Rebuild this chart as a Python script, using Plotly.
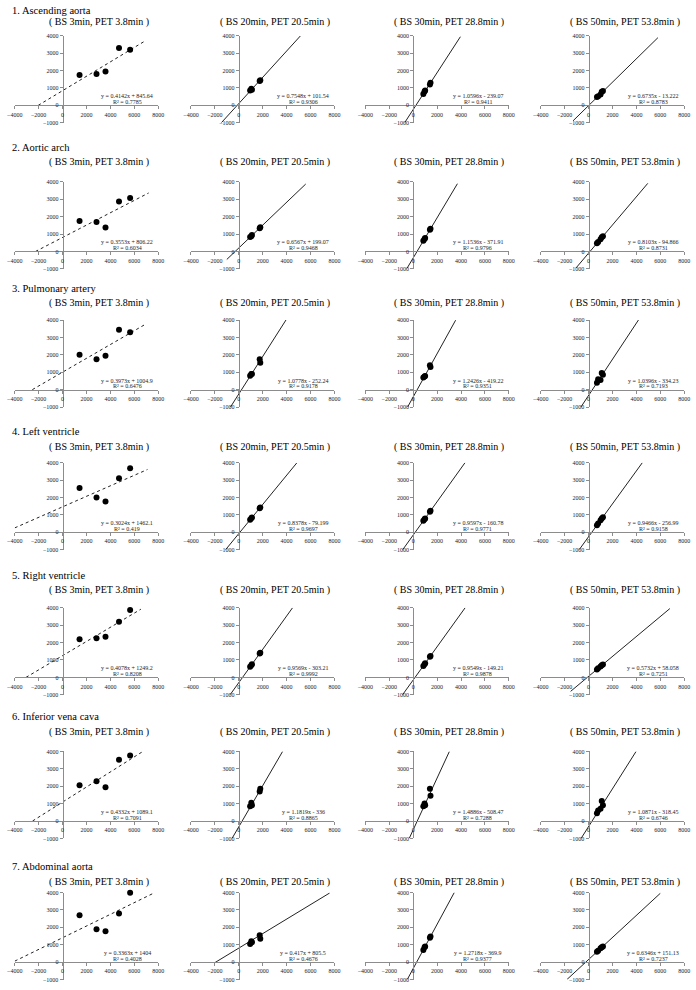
import plotly.graph_objects as go

W, H = 696, 990

sections = ["1. Ascending aorta", "2. Aortic arch", "3. Pulmonary artery", "4. Left ventricle",
            "5. Right ventricle", "6. Inferior vena cava", "7. Abdominal aorta"]
timepoints = ["( BS 3min, PET 3.8min )", "( BS 20min, PET 20.5min )",
              "( BS 30min, PET 28.8min )", "( BS 50min, PET 53.8min )"]

x_ticks = [-4000, -2000, 0, 2000, 4000, 6000, 8000]
y_ticks = [-1000, 0, 1000, 2000, 3000, 4000]

# blood-sampling (BS) values, shared by all organs, one list per time point
bs_3min = [1420, 2840, 3590, 4720, 5650]
bs_20min = [950, 1050, 1100, 1750, 1800]
bs_30min = [850, 950, 1000, 1400, 1450]
bs_50min = [700, 800, 1000, 1100, 1200]
bs_x = [bs_3min, bs_20min, bs_30min, bs_50min]

# PET values per organ [time point]
pet_ascending_aorta = [[1750, 1800, 1950, 3300, 3200], [850, 950, 900, 1400, 1450],
                       [650, 800, 850, 1200, 1300], [480, 520, 620, 780, 820]]
pet_aortic_arch = [[1750, 1700, 1380, 2870, 3070], [830, 880, 950, 1330, 1390],
                   [620, 720, 770, 1250, 1300], [480, 540, 700, 820, 870]]
pet_pulmonary_artery = [[2000, 1750, 1950, 3450, 3300], [800, 900, 900, 1750, 1550],
                        [700, 750, 780, 1400, 1300], [400, 600, 550, 950, 850]]
pet_left_ventricle = [[2540, 2000, 1770, 3110, 3680], [720, 800, 850, 1380, 1430],
                      [660, 750, 790, 1180, 1240], [410, 500, 690, 790, 870]]
pet_right_ventricle = [[2190, 2250, 2330, 3200, 3870], [610, 700, 750, 1370, 1420],
                       [660, 760, 810, 1190, 1230], [450, 530, 620, 700, 740]]
pet_inferior_vena_cava = [[2060, 2290, 1940, 3520, 3770], [850, 1050, 900, 1700, 1850],
                          [850, 1000, 900, 1850, 1450], [450, 600, 700, 1150, 900]]
pet_abdominal_aorta = [[2690, 1890, 1770, 2800, 3990], [1050, 1200, 1150, 1550, 1350],
                       [700, 850, 900, 1400, 1480], [600, 650, 800, 850, 900]]
pet_y = [pet_ascending_aorta, pet_aortic_arch, pet_pulmonary_artery, pet_left_ventricle,
         pet_right_ventricle, pet_inferior_vena_cava, pet_abdominal_aorta]

# Excel trendline equations per panel (slope, intercept)
slopes = [
    [0.4142, 0.7548, 1.0596, 0.6735],
    [0.3553, 0.6567, 1.1536, 0.8103],
    [0.3973, 1.0778, 1.2426, 1.0396],
    [0.3024, 0.8378, 0.9597, 0.9466],
    [0.4078, 0.9569, 0.9549, 0.5732],
    [0.4332, 1.1819, 1.4886, 1.0871],
    [0.3363, 0.417, 1.2718, 0.6346],
]
intercepts = [
    [845.64, 101.54, -239.07, -13.222],
    [806.22, 199.07, -371.91, -94.866],
    [1004.9, -252.24, -419.22, -334.23],
    [1462.1, -79.199, -160.78, -256.99],
    [1249.2, -303.21, -149.21, 58.058],
    [1089.1, -336, -508.47, -318.45],
    [1404, 805.5, -369.9, 151.13],
]
eq_text = [
    ["y = 0.4142x + 845.64", "y = 0.7548x + 101.54", "y = 1.0596x - 239.07", "y = 0.6735x - 13.222"],
    ["y = 0.3553x + 806.22", "y = 0.6567x + 199.07", "y = 1.1536x - 371.91", "y = 0.8103x - 94.866"],
    ["y = 0.3973x + 1004.9", "y = 1.0778x - 252.24", "y = 1.2426x - 419.22", "y = 1.0396x - 334.23"],
    ["y = 0.3024x + 1462.1", "y = 0.8378x - 79.199", "y = 0.9597x - 160.78", "y = 0.9466x - 256.99"],
    ["y = 0.4078x + 1249.2", "y = 0.9569x - 303.21", "y = 0.9549x - 149.21", "y = 0.5732x + 58.058"],
    ["y = 0.4332x + 1089.1", "y = 1.1819x - 336", "y = 1.4886x - 508.47", "y = 1.0871x - 318.45"],
    ["y = 0.3363x + 1404", "y = 0.417x + 805.5", "y = 1.2718x - 369.9", "y = 0.6346x + 151.13"],
]
r2_text = [
    ["R² = 0.7785", "R² = 0.9306", "R² = 0.9411", "R² = 0.8783"],
    ["R² = 0.6034", "R² = 0.9468", "R² = 0.9796", "R² = 0.8731"],
    ["R² = 0.6476", "R² = 0.9178", "R² = 0.9351", "R² = 0.7193"],
    ["R² = 0.419", "R² = 0.9697", "R² = 0.9771", "R² = 0.9158"],
    ["R² = 0.8208", "R² = 0.9992", "R² = 0.9878", "R² = 0.7251"],
    ["R² = 0.7091", "R² = 0.8865", "R² = 0.7288", "R² = 0.6746"],
    ["R² = 0.4028", "R² = 0.4676", "R² = 0.9377", "R² = 0.7237"],
]
# trendline x extent (forecast range) per panel
trend_x0 = [
    [-2040, -1450, -700, -1300],
    [-2270, -1000, -520, -1050],
    [-2530, -700, -470, -640],
    [-4000, -1100, -875, -785],
    [-3060, -728, -891, -1500],
    [-2510, -562, -330, -627],
    [-4000, -2000, -495, -1800],
]
trend_x1 = [
    [6800, 5150, 3950, 5800],
    [7200, 5600, 3700, 4950],
    [7000, 3950, 3550, 4200],
    [7100, 4850, 4335, 4497],
    [6550, 4497, 4345, 6800],
    [6650, 3669, 3028, 3972],
    [7700, 7600, 3436, 6000],
]

# ---- layout geometry (pixels) ----
col_axis_x = [55.7, 235.5, 413.5, 592.5]
row_axis_y = [103, 250, 389, 532.5, 678.5, 823, 965]
title_y = [8, 145, 287, 431, 576, 718, 869]
sub_y = [19, 160, 302, 447, 591, 733, 884]
XPX = 12.2   # px per 1000 on x
YPX = 17.5   # px per 1000 on y

FONT = "Liberation Serif"
fig = go.Figure()
annotations = []
layout_axes = {}

k = 0
for r in range(7):
    for c in range(4):
        k += 1
        xs = "" if k == 1 else str(k)
        ax, ay = col_axis_x[c], row_axis_y[r]
        xdom = [(ax - 4 * XPX) / W, (ax + 8 * XPX) / W]
        ydom = [1 - (ay + 1 * YPX) / H, 1 - (ay - 4 * YPX) / H]
        common = dict(showgrid=False, zeroline=False, showline=True, linecolor="#8c8c8c", linewidth=1,
                      ticks="outside", ticklen=3, tickcolor="#8c8c8c",
                      tickfont=dict(family=FONT, size=6, color="#222"), anchor="free")
        layout_axes["xaxis" + xs] = dict(common, domain=xdom, range=[-4000, 8000], tickvals=x_ticks,
                                         position=1 - ay / H)
        layout_axes["yaxis" + xs] = dict(common, domain=ydom, range=[-1000, 4000], tickvals=y_ticks,
                                         position=ax / W)
        m, b = slopes[r][c], intercepts[r][c]
        tx = [trend_x0[r][c], trend_x1[r][c]]
        ty = [m * v + b for v in tx]
        fig.add_trace(go.Scatter(x=tx, y=ty, mode="lines", xaxis="x" + xs, yaxis="y" + xs,
                                 line=dict(color="#222", width=1, dash="dot" if c == 0 else "solid"),
                                 showlegend=False, hoverinfo="skip"))
        fig.add_trace(go.Scatter(x=bs_x[c], y=pet_y[r][c], mode="markers", xaxis="x" + xs, yaxis="y" + xs,
                                 marker=dict(color="black", size=6), showlegend=False, cliponaxis=False))
        annotations.append(dict(text=eq_text[r][c], x=5400, y=520, xref="x" + xs, yref="y" + xs,
                                xanchor="center", yanchor="middle",
                                showarrow=False, font=dict(family=FONT, size=6, color="#222")))
        annotations.append(dict(text=r2_text[r][c], x=5400, y=200, xref="x" + xs, yref="y" + xs,
                                xanchor="center", yanchor="middle",
                                showarrow=False, font=dict(family=FONT, size=6, color="#222")))
        annotations.append(dict(text=timepoints[c], x=(ax + 37) / W, y=1 - sub_y[r] / H,
                                xref="paper", yref="paper", showarrow=False,
                                xanchor="center", yanchor="middle",
                                font=dict(family=FONT, size=10, color="black")))
    annotations.append(dict(text=sections[r], x=2 / W, y=1 - title_y[r] / H, xref="paper", yref="paper",
                            xanchor="left", yanchor="middle", showarrow=False,
                            font=dict(family=FONT, size=10.5, color="black")))

fig.update_layout(width=W, height=H, margin=dict(l=0, r=0, t=0, b=0), plot_bgcolor="white",
                  paper_bgcolor="white", annotations=annotations, hovermode=False, **layout_axes)
fig.write_html("out.html", config={"displayModeBar": False, "staticPlot": True},
               post_script="document.body.style.margin='0';document.body.style.overflow='hidden';")
